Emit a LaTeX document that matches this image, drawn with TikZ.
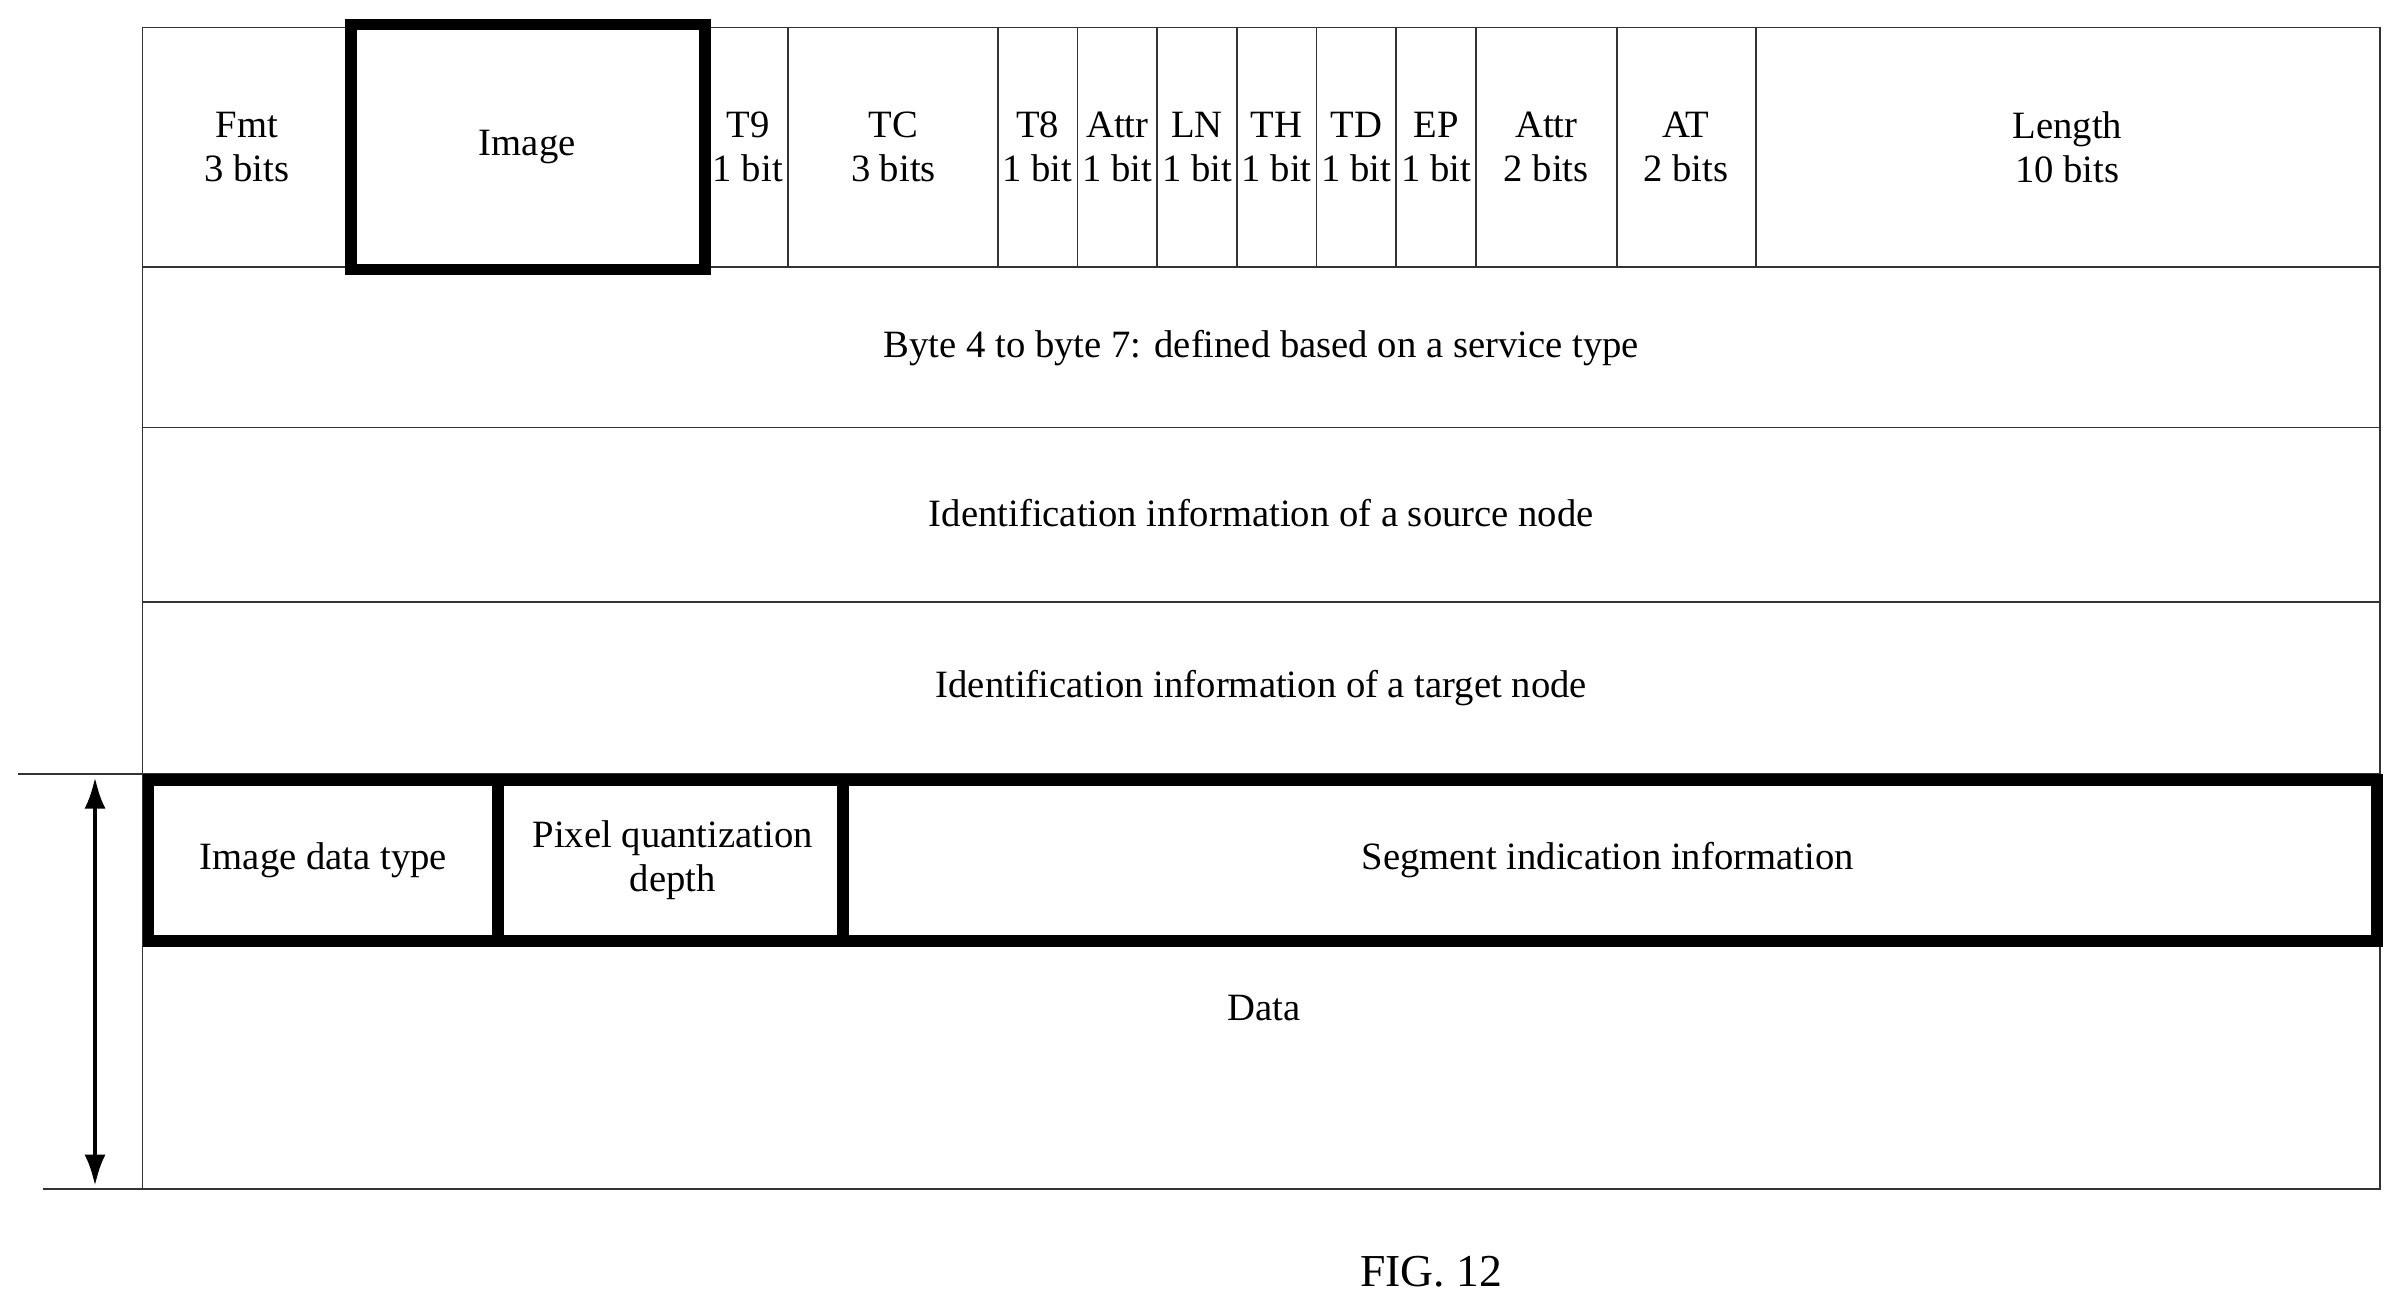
\documentclass[tikz,border=0pt]{standalone}
\usepackage{fontspec}
\setmainfont{Liberation Serif}
\usetikzlibrary{arrows.meta}
\begin{document}
\begin{tikzpicture}[x=0.015325cm,y=-0.015325cm,
  thin/.style={draw=black!80,line width=0.5pt},
  thick box/.style={draw=black,line width=3.2pt},
  lbl/.style={align=center,font=\fontsize{11}{12.5}\selectfont,inner sep=0pt}]
\useasboundingbox (0,0) rectangle (1568,855);
% outer grid
\draw[thin] (93,18) rectangle (1553,776);
\foreach \y in {174,279,393,505} \draw[thin] (93,\y) -- (1553,\y);
\foreach \x in {514,651,703,755,807,859,911,963,1055,1146} \draw[thin] (\x,18) -- (\x,174);
\draw[thick box] (229,16) rectangle (460,176);
% header labels
\node[lbl] (fmt) at (161,96) {Fmt\\3 bits};
\node[lbl] (img) at (344,96) {Image};
\node[lbl] (t9) at (488,96) {T9\\1 bit};
\node[lbl] (tc) at (583,96) {TC\\3 bits};
\node[lbl] (t8) at (677,96) {T8\\1 bit};
\node[lbl] (attr1) at (729,96) {Attr\\1 bit};
\node[lbl] (ln) at (781,96) {LN\\1 bit};
\node[lbl] (th) at (833,96) {TH\\1 bit};
\node[lbl] (td) at (885,96) {TD\\1 bit};
\node[lbl] (ep) at (937,96) {EP\\1 bit};
\node[lbl] (attr2) at (1009,96) {Attr\\2 bits};
\node[lbl] (at) at (1100,96) {AT\\2 bits};
\node[lbl] (len) at (1349,96) {Length\\10 bits};
\node[lbl] (b47) at (823,227) {Byte 4 to byte 7: defined based on a service type};
\node[lbl] (src) at (823,335) {Identification information of a source node};
\node[lbl] (tgt) at (823,449) {Identification information of a target node};
% thick data row
\draw[thick box] (97,509) rectangle (1551,614);
\draw[thick box] (325,509) -- (325,614);
\draw[thick box] (550,509) -- (550,614);
\node[lbl] (idt) at (211,561) {Image data type};
\node[lbl] (pqd) at (439,561) {Pixel quantization\\depth};
\node[lbl] (sii) at (1049,561) {Segment indication information};
\node[lbl] (data) at (825,658) {Data};
% left dimension
\coordinate (t1) at (12,505); \coordinate (t2) at (93,505);
\coordinate (b1) at (28,776); \coordinate (b2) at (95,776);
\draw[thin] (t1) -- (t2);
\draw[thin] (b1) -- (b2);
\coordinate (a1) at (62,507); \coordinate (a2) at (62,774);
\draw[line width=1.3pt,{Latex[length=9pt,width=6pt]}-{Latex[length=9pt,width=6pt]}] (a1) -- (a2);
\node[lbl,font=\fontsize{13}{15}\selectfont] (fig) at (934,830) {FIG. 12};
\end{tikzpicture}
\end{document}
